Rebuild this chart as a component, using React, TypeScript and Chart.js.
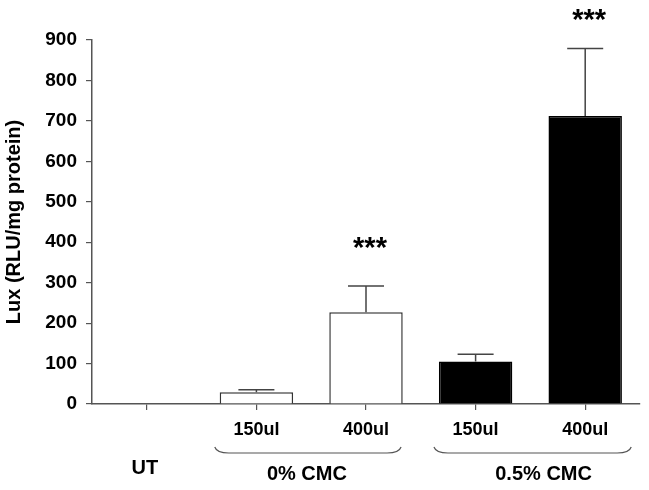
import React, { useEffect, useRef } from "react";
import { Chart, registerables } from "chart.js";

Chart.register(...registerables);

const categories = ["UT", "150ul", "400ul", "150ul", "400ul"];
const means = [1, 29, 227, 105, 712];
const errorsUp = [0, 6, 65, 18, 167];
const barColors = ["#ffffff", "#ffffff", "#ffffff", "#000000", "#000000"];
const sigMarks = ["", "", "***", "", "***"];
const sigLevels = [0, 0, 400, 0, 965];
const yTicks = [0, 100, 200, 300, 400, 500, 600, 700, 800, 900];
const groups = [
  { label: "UT", from: 0, to: 0, brace: false },
  { label: "0% CMC", from: 1, to: 2, brace: true },
  { label: "0.5% CMC", from: 3, to: 4, brace: true },
];

const FONT = "'Liberation Sans', Arial, Helvetica, sans-serif";
const AXIS = "#555555";

const annotPlugin = {
  id: "annot",
  afterDatasetsDraw(chart: any) {
    const ctx = chart.ctx;
    const y = chart.scales.y;
    const meta = chart.getDatasetMeta(0);
    ctx.save();
    meta.data.forEach((bar: any, i: number) => {
      const cx = bar.x;
      if (errorsUp[i] > 0) {
        const top = y.getPixelForValue(means[i]);
        const cap = y.getPixelForValue(means[i] + errorsUp[i]);
        ctx.strokeStyle = "#444444";
        ctx.lineWidth = 1.5;
        ctx.beginPath();
        ctx.moveTo(cx, top);
        ctx.lineTo(cx, cap);
        ctx.moveTo(cx - 18, cap);
        ctx.lineTo(cx + 18, cap);
        ctx.stroke();
      }
      if (sigMarks[i]) {
        const sy = y.getPixelForValue(sigLevels[i]);
        ctx.fillStyle = "#000";
        ctx.font = `bold 29px ${FONT}`;
        ctx.textAlign = "center";
        ctx.textBaseline = "middle";
        ctx.fillText(sigMarks[i], cx + 4, sy + 7);
      }
    });
    ctx.restore();
  },
  afterDraw(chart: any) {
    const ctx = chart.ctx;
    const x = chart.scales.x;
    const catW = (x.right - x.left) / categories.length;
    ctx.save();
    groups.forEach((g, gi) => {
      const c1 = x.getPixelForValue(g.from);
      const c2 = x.getPixelForValue(g.to);
      let mid = (c1 + c2) / 2;
      if (g.brace) {
        const l = c1 - 0.38 * catW;
        const r = c2 + (gi === 2 ? 0.42 : 0.32) * catW;
        const t = 447;
        const b = 453;
        ctx.strokeStyle = AXIS;
        ctx.lineWidth = 1.2;
        ctx.beginPath();
        ctx.moveTo(l, t);
        ctx.quadraticCurveTo(l + 2, b, l + 14, b);
        ctx.lineTo(r - 14, b);
        ctx.quadraticCurveTo(r - 2, b, r, t);
        ctx.stroke();
        mid = (l + r) / 2 + (gi === 2 ? 11 : -1);
      }
      ctx.fillStyle = "#000";
      ctx.font = `bold 20px ${FONT}`;
      ctx.textAlign = "center";
      ctx.textBaseline = "middle";
      ctx.fillText(g.label, mid - (g.brace ? 0 : 2), g.brace ? 474 : 468);
    });
    ctx.restore();
  },
};

export default function App() {
  const ref = useRef<HTMLCanvasElement>(null);
  useEffect(() => {
    if (!ref.current) return;
    const chart = new Chart(ref.current, {
      type: "bar",
      data: {
        labels: categories,
        datasets: [
          {
            data: means,
            backgroundColor: barColors,
            borderColor: ["#333333", "#333333", "#333333", "#000000", "#000000"],
            borderWidth: 1.5,
            borderSkipped: "bottom",
            barPercentage: 0.67,
            categoryPercentage: 1,
          },
        ],
      },
      options: {
        responsive: false,
        animation: false,
        layout: { padding: { top: 40, right: 9, left: 0, bottom: 0 } },
        plugins: { legend: { display: false }, tooltip: { enabled: false } },
        scales: {
          x: {
            offset: true,
            grid: {
              offset: false,
              drawOnChartArea: false,
              drawTicks: true,
              tickLength: 6,
              color: AXIS,
              lineWidth: 1.2,
            },
            border: { display: true, color: AXIS, width: 1.5 },
            ticks: {
              padding: 9,
              color: "#000",
              font: { family: FONT, size: 18, weight: "bold" },
              callback: (_v: any, i: number) => (i === 0 ? "" : categories[i]),
            },
            afterFit: (s: any) => {
              s.height = 86;
            },
          },
          y: {
            min: 0,
            max: 900,
            afterBuildTicks: (s: any) => {
              s.ticks = yTicks.map((v) => ({ value: v }));
            },
            grid: {
              drawOnChartArea: false,
              drawTicks: true,
              tickLength: 6,
              color: AXIS,
              lineWidth: 1.2,
            },
            border: { display: true, color: AXIS, width: 1.5 },
            ticks: {
              padding: 9,
              color: "#000",
              font: { family: FONT, size: 19, weight: "bold" },
            },
            title: {
              display: true,
              text: "Lux (RLU/mg protein)",
              color: "#000",
              font: { family: FONT, size: 20, weight: "bold" },
              padding: { top: 2, bottom: 0 },
            },
            afterFit: (s: any) => {
              s.width = 92;
            },
          },
        },
      },
      plugins: [annotPlugin],
    });
    return () => chart.destroy();
  }, []);
  return (
    <div style={{ position: "absolute", left: 0, top: 0, width: 649, height: 490, background: "#fff" }}>
      <canvas ref={ref} width={649} height={490} style={{ display: "block" }} />
    </div>
  );
}
